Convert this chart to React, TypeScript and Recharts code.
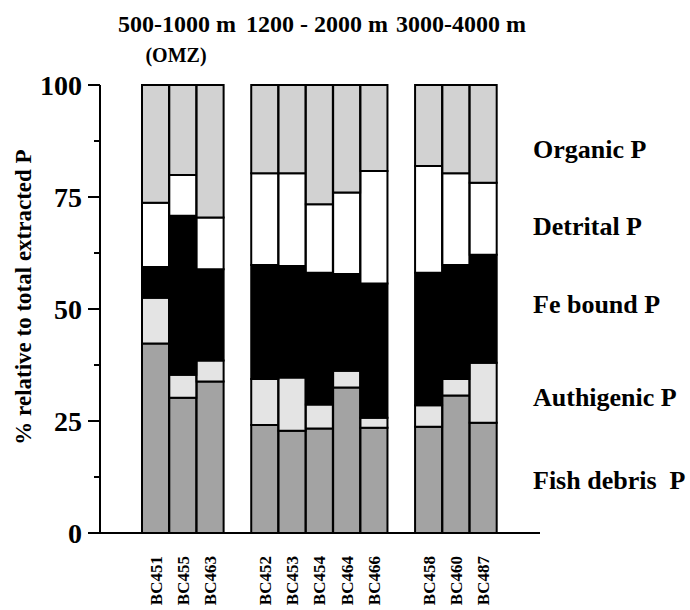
import { BarChart, Bar, XAxis, YAxis, Customized } from 'recharts'

const samples = ['BC451', 'BC455', 'BC463', 'BC452', 'BC453', 'BC454', 'BC464', 'BC466', 'BC458', 'BC460', 'BC487']
const groupSizes = [3, 5, 3]
const depthLabels = ['500-1000 m', '1200 - 2000 m', '3000-4000 m']

// % of total extracted P (bottom to top)
const fishDebris = [42.3, 30.2, 33.8, 24.1, 22.8, 23.3, 32.5, 23.5, 23.7, 30.7, 24.6]
const authigenic = [10.2, 5.1, 4.7, 10.3, 11.9, 5.4, 3.7, 2.2, 4.8, 3.7, 13.4]
const feBound = [6.9, 35.5, 20.4, 25.4, 24.9, 29.4, 21.6, 30.0, 29.6, 25.4, 24.1]
const detrital = [14.3, 9.1, 11.5, 20.5, 20.7, 15.3, 18.2, 25.1, 23.8, 20.5, 16.1]
const organic = [26.3, 20.1, 29.6, 19.7, 19.7, 26.6, 24.0, 19.2, 18.1, 19.7, 21.8]

const yTicks = [0, 12.5, 25, 37.5, 50, 62.5, 75, 87.5, 100]
const fractionLabels = ['Organic P', 'Detrital P', 'Fe bound P', 'Authigenic P', 'Fish debris  P']

const FONT = '"Liberation Serif", "Times New Roman", serif'
const txtStyle = { fontFamily: FONT, fontWeight: 700, whiteSpace: 'pre' } as any

function buildRows() {
  const rows: any[] = []
  let i = 0
  groupSizes.forEach((n, g) => {
    if (g > 0) rows.push({ name: `gap${g}` })
    for (let k = 0; k < n; k++, i++) {
      rows.push({
        name: samples[i],
        fish: fishDebris[i],
        auth: authigenic[i],
        fe: feBound[i],
        det: detrital[i],
        org: organic[i],
      })
    }
  })
  return rows
}

const YTick = ({ x, y, payload }: any) => {
  const major = payload.value % 25 === 0
  return (
    <g>
      <line x1={x - (major ? 12 : 6)} x2={x} y1={y} y2={y} stroke="#000" strokeWidth={2} />
      {major && (
        <text x={x - 18} y={y} dy="0.35em" textAnchor="end" fontSize={28} fill="#000" style={txtStyle}>
          {payload.value}
        </text>
      )}
    </g>
  )
}

const XTick = ({ x, y, payload }: any) => {
  if (String(payload.value).startsWith('gap')) return null
  const ty = y + 23
  return (
    <text
      x={x} y={ty} dy="0.35em" textAnchor="end"
      transform={`rotate(-90 ${x} ${ty})`}
      fontSize={17} fill="#000" style={txtStyle}
    >
      {payload.value}
    </text>
  )
}

const Annotations = () => {
  const headerX = [177, 317, 461]
  const labelY = [158, 235, 313, 406, 489]
  return (
    <g>
      {depthLabels.map((d, i) => (
        <text key={d} x={headerX[i]} y={32} textAnchor="middle" fontSize={24} fill="#000" style={txtStyle}>{d}</text>
      ))}
      <text x={176} y={62} textAnchor="middle" fontSize={20} fill="#000" style={txtStyle}>(OMZ)</text>
      {fractionLabels.map((l, i) => (
        <text key={l} x={533} y={labelY[i]} fontSize={26} fill="#000" style={txtStyle}>{l}</text>
      ))}
      <text x={31} y={297} textAnchor="middle" fontSize={23} fill="#000" transform="rotate(-90 31 297)" style={txtStyle}>
        % relative to total extracted P
      </text>
    </g>
  )
}

export default function App() {
  const data = buildRows()
  return (
    <div style={{ position: 'absolute', left: 0, top: 0, background: '#fff' }}>
      <BarChart
        width={690} height={610} data={data}
        margin={{ top: 85, right: 150, bottom: 0, left: 40 }}
        barCategoryGap={0} barGap={0}
      >
        <XAxis
          dataKey="name" height={77} interval={0}
          padding={{ left: 42, right: 43 }}
          axisLine={{ stroke: '#000', strokeWidth: 2 }}
          tickLine={false} tickSize={0} tickMargin={0}
          tick={<XTick />}
        />
        <YAxis
          width={60} domain={[0, 100]} ticks={yTicks} interval={0}
          axisLine={{ stroke: '#000', strokeWidth: 2 }}
          tickLine={false} tickSize={0} tickMargin={0}
          tick={<YTick />}
        />
        <Bar dataKey="fish" stackId="p" fill="#a3a3a3" stroke="#000" strokeWidth={2} isAnimationActive={false} />
        <Bar dataKey="auth" stackId="p" fill="#e4e4e4" stroke="#000" strokeWidth={2} isAnimationActive={false} />
        <Bar dataKey="fe" stackId="p" fill="#000" stroke="#000" strokeWidth={2} isAnimationActive={false} />
        <Bar dataKey="det" stackId="p" fill="#fff" stroke="#000" strokeWidth={2} isAnimationActive={false} />
        <Bar dataKey="org" stackId="p" fill="#d2d2d2" stroke="#000" strokeWidth={2} isAnimationActive={false} />
        <Customized component={Annotations} />
      </BarChart>
    </div>
  )
}
